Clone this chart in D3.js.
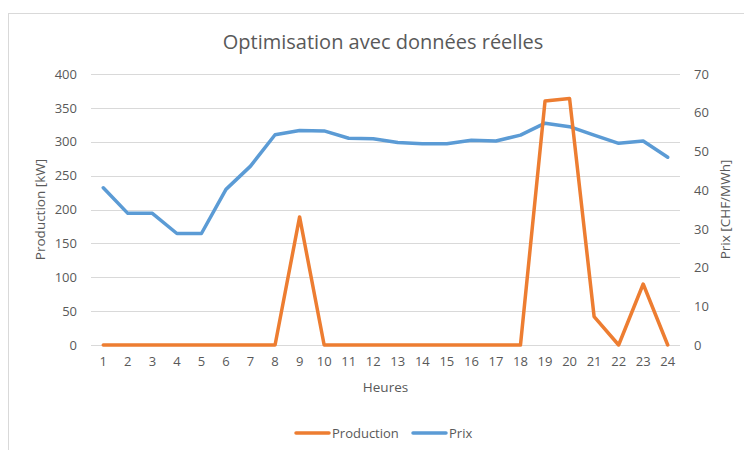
<!DOCTYPE html>
<html><head><meta charset="utf-8">
<script src="https://cdn.jsdelivr.net/npm/d3@7/dist/d3.min.js"></script>
<style>body{margin:0;background:#fff}svg{display:block}</style>
</head><body>
<script>
const hours = d3.range(1, 25).map(String);
const production = [0,0,0,0,0,0,0,0,189,0,0,0,0,0,0,0,0,0,360,364,42,0,90,0];
const prix = [40.6,34.0,34.0,28.8,28.8,40.2,46.2,54.3,55.4,55.3,53.4,53.3,52.3,52.0,52.0,52.9,52.7,54.2,57.3,56.4,54.2,52.1,52.7,48.5];
const leftTicks = [0,50,100,150,200,250,300,350,400];
const rightTicks = [0,10,20,30,40,50,60,70];

const W = 744, H = 450;
const m = {left: 91, right: 680, top: 74, bottom: 345};
const font = "'Open Sans', sans-serif";
const txt = "#595959";

const svg = d3.select("body").append("svg").attr("width", W).attr("height", H);
svg.append("rect").attr("x", 8.5).attr("y", 13.5).attr("width", 760).attr("height", 460)
  .attr("fill", "#fff").attr("stroke", "#d9d9d9");

const x = d3.scaleBand().domain(hours).range([m.left, m.right]);
const yL = d3.scaleLinear().domain([0, 400]).range([m.bottom, m.top]);
const yR = d3.scaleLinear().domain([0, 70]).range([m.bottom, m.top]);

// grid
svg.append("g").selectAll("line").data(leftTicks).join("line")
  .attr("x1", m.left).attr("x2", m.right)
  .attr("y1", d => Math.round(yL(d)) + 0.5).attr("y2", d => Math.round(yL(d)) + 0.5)
  .attr("stroke", "#d9d9d9").attr("stroke-width", 1);

// left axis
const gl = svg.append("g").attr("transform", `translate(${m.left - 14},0)`)
  .call(d3.axisLeft(yL).tickValues(leftTicks).tickSize(0).tickPadding(0));
gl.select(".domain").remove();
gl.selectAll("text").attr("fill", txt).style("font-family", font).style("font-size", "13px");

// right axis
const gr = svg.append("g").attr("transform", `translate(${m.right + 14},0)`)
  .call(d3.axisRight(yR).tickValues(rightTicks).tickSize(0).tickPadding(0));
gr.select(".domain").remove();
gr.selectAll("text").attr("fill", txt).style("font-family", font).style("font-size", "13px");

// bottom axis
const gb = svg.append("g").attr("transform", `translate(0,${m.bottom + 8})`)
  .call(d3.axisBottom(x).tickSize(0).tickPadding(4));
gb.select(".domain").remove();
gb.selectAll("text").attr("fill", txt).style("font-family", font).style("font-size", "13px");

const cx = d => x(d) + x.bandwidth() / 2;

// lines
svg.append("path").datum(prix)
  .attr("d", d3.line().x((d, i) => cx(hours[i])).y(d => yR(d)))
  .attr("fill", "none").attr("stroke", "#5b9bd5").attr("stroke-width", 3.5)
  .attr("stroke-linejoin", "round").attr("stroke-linecap", "round");
svg.append("path").datum(production)
  .attr("d", d3.line().x((d, i) => cx(hours[i])).y(d => yL(d)))
  .attr("fill", "none").attr("stroke", "#ed7d31").attr("stroke-width", 3.5)
  .attr("stroke-linejoin", "round").attr("stroke-linecap", "round");

// title
svg.append("text").attr("x", 383).attr("y", 49).attr("text-anchor", "middle")
  .attr("fill", txt).style("font-family", font).style("font-size", "20px")
  .text("Optimisation avec données réelles");

// axis titles
svg.append("text").attr("transform", `translate(45,${(m.top + m.bottom) / 2}) rotate(-90)`)
  .attr("text-anchor", "middle").attr("fill", txt).style("font-family", font).style("font-size", "13.5px")
  .text("Production [kW]");
svg.append("text").attr("transform", `translate(730,${(m.top + m.bottom) / 2}) rotate(-90)`)
  .attr("text-anchor", "middle").attr("fill", txt).style("font-family", font).style("font-size", "13.5px")
  .text("Prix [CHF/MWh]");
svg.append("text").attr("x", (m.left + m.right) / 2).attr("y", 392).attr("text-anchor", "middle")
  .attr("fill", txt).style("font-family", font).style("font-size", "13.5px").text("Heures");

// legend
const legend = [{name: "Production", color: "#ed7d31", x: 296}, {name: "Prix", color: "#5b9bd5", x: 413}];
const lg = svg.append("g").selectAll("g").data(legend).join("g")
  .attr("transform", d => `translate(${d.x},433)`);
lg.append("line").attr("x1", 0).attr("x2", 33).attr("stroke", d => d.color)
  .attr("stroke-width", 3.5).attr("stroke-linecap", "round");
lg.append("text").attr("x", 36).attr("y", 4.5).attr("fill", txt)
  .style("font-family", font).style("font-size", "13px").text(d => d.name);
</script>
</body></html>
